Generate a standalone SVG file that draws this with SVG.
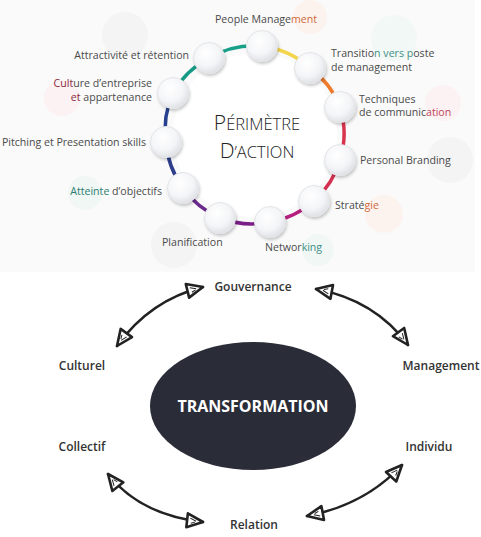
<svg xmlns="http://www.w3.org/2000/svg" width="481" height="537" viewBox="0 0 481 537">
<style>
.lbl{font-family:"Open Sans","Liberation Sans",sans-serif;font-size:10.6px;fill:#4a4a4a}
.big{font-family:"Open Sans","Liberation Sans",sans-serif;font-size:12px;font-weight:600;fill:#333}
.ttl{font-family:"Open Sans","Liberation Sans",sans-serif;font-weight:300;fill:#222}
.node{fill:url(#ng);stroke:#e4e5e8;stroke-width:1;filter:url(#sh)}
.seg{fill:none;stroke-width:3.5}
.arr{fill:none;stroke:#222;stroke-width:2.5;stroke-linecap:round;marker-start:url(#ah);marker-end:url(#ah)}
</style>
<defs>
<radialGradient id="ng" cx="0.4" cy="0.35" r="0.7">
<stop offset="0" stop-color="#ffffff"/>
<stop offset="0.6" stop-color="#f4f5f7"/>
<stop offset="1" stop-color="#dcdee3"/>
</radialGradient>
<filter id="sh" x="-40%" y="-40%" width="180%" height="180%">
<feDropShadow dx="1" dy="2" stdDeviation="1.5" flood-color="#000" flood-opacity="0.22"/>
</filter>
<marker id="ah" viewBox="-2 -9 21 18" refX="16" refY="0" markerWidth="21" markerHeight="18" markerUnits="userSpaceOnUse" orient="auto-start-reverse">
<path d="M0,-7 L16,0 L0,7 Z" fill="#fff" stroke="#222" stroke-width="2.6" stroke-linejoin="round"/>
<path d="M3,-2.5 L9,0 M4,2.5 L8,1" stroke="#222" stroke-width="1" fill="none"/>
</marker>
</defs>
<rect x="0" y="0" width="475" height="272" fill="#fafafa"/>
<g id="blobs">
<circle cx="310" cy="17" r="17" fill="#fdf3ee"/>
<circle cx="394" cy="38" r="23" fill="#f1f8f6"/>
<circle cx="443" cy="103" r="18" fill="#fcf1f3"/>
<circle cx="450" cy="160" r="23" fill="#f4f4f4"/>
<circle cx="384" cy="214" r="19" fill="#fdf3ee"/>
<circle cx="318" cy="250" r="16" fill="#f0f7f5"/>
<circle cx="174" cy="245" r="23" fill="#f4f4f4"/>
<circle cx="85" cy="193" r="17" fill="#f0f7f5"/>
<circle cx="62" cy="98" r="18" fill="#fcf1f3"/>
<circle cx="125" cy="35" r="23" fill="#f4f4f4"/>
</g>
<circle cx="255" cy="135" r="82" fill="#fff"/>
<g id="ring">
<path class="seg" stroke="#f2d54a" d="M262,46 A89,89 0 0 1 310,68"/>
<path class="seg" stroke="#ee7a2c" d="M310,68 A89,89 0 0 1 340,107"/>
<path class="seg" stroke="#d8344f" d="M340,107 A89,89 0 0 1 340,160"/>
<path class="seg" stroke="#d4304f" d="M340,160 A89,89 0 0 1 314,201"/>
<path class="seg" stroke="#b5207e" d="M314,201 A89,89 0 0 1 270,222"/>
<path class="seg" stroke="#7a1f87" d="M270,222 A89,89 0 0 1 220,218"/>
<path class="seg" stroke="#6b2a8c" d="M220,218 A89,89 0 0 1 183,188"/>
<path class="seg" stroke="#2c3e8c" d="M183,188 A89,89 0 0 1 166,142"/>
<path class="seg" stroke="#27408f" d="M166,142 A89,89 0 0 1 173,93"/>
<path class="seg" stroke="#169a86" d="M173,93 A89,89 0 0 1 209,58"/>
<path class="seg" stroke="#18a089" d="M209,58 A89,89 0 0 1 262,46"/>
</g>
<g id="title">
<text class="ttl" x="257" y="130" text-anchor="middle"><tspan font-size="21">P</tspan><tspan font-size="16.5">ÉRIMÈTRE</tspan></text>
<text class="ttl" x="257" y="158" text-anchor="middle"><tspan font-size="21">D</tspan><tspan font-size="16.5">’ACTION</tspan></text>
</g>
<g id="n-people"><circle class="node" cx="262" cy="46" r="15.5"/><text class="lbl" x="215" y="23">People Manage<tspan fill="#cf6a40">ment</tspan></text></g>
<g id="n-transition"><circle class="node" cx="310" cy="68" r="15.5"/><text class="lbl" x="331" y="57">Transitio<tspan fill="#3f8f84">n vers p</tspan>oste</text><text class="lbl" x="331" y="71">de management</text></g>
<g id="n-techniques"><circle class="node" cx="340" cy="107" r="15.5"/><text class="lbl" x="359" y="103">Techniques</text><text class="lbl" x="359" y="116">de communic<tspan fill="#c0455a">ation</tspan></text></g>
<g id="n-branding"><circle class="node" cx="340" cy="160" r="15.5"/><text class="lbl" x="360" y="164">Personal Branding</text></g>
<g id="n-strategie"><circle class="node" cx="314" cy="201" r="15.5"/><text class="lbl" x="335" y="209">Straté<tspan fill="#cf6a40">gie</tspan></text></g>
<g id="n-networking"><circle class="node" cx="270" cy="222" r="15.5"/><text class="lbl" x="265" y="251">Networ<tspan fill="#3f8f84">king</tspan></text></g>
<g id="n-planification"><circle class="node" cx="220" cy="218" r="15.5"/><text class="lbl" x="162" y="246">Planification</text></g>
<g id="n-atteinte"><circle class="node" cx="183" cy="188" r="15.5"/><text class="lbl" x="162" y="195" text-anchor="end"><tspan fill="#2e7d70">Atteinte</tspan> d’objectifs</text></g>
<g id="n-pitching"><circle class="node" cx="166" cy="142" r="15.5"/><text class="lbl" x="146" y="146" text-anchor="end">Pitching et Presentation skills</text></g>
<g id="n-culture"><circle class="node" cx="173" cy="93" r="15.5"/><text class="lbl" x="152" y="87" text-anchor="end"><tspan fill="#8b2b3b">Cult</tspan>ure d’entreprise</text><text class="lbl" x="152" y="101" text-anchor="end"><tspan fill="#8b2b3b">et</tspan> appartenance</text></g>
<g id="n-attractivite"><circle class="node" cx="209" cy="58" r="15.5"/><text class="lbl" x="189" y="59" text-anchor="end">Attractivité et rétention</text></g>
<g id="n-transformation">
<ellipse cx="253" cy="406" rx="103" ry="64" fill="#2a2d38"/>
<text x="253" y="412" text-anchor="middle" font-family="'Open Sans','Liberation Sans',sans-serif" font-size="16" font-weight="700" fill="#fff">TRANSFORMATION</text>
</g>
<g id="n-gouvernance"><text class="big" x="253" y="291" text-anchor="middle">Gouvernance</text></g>
<g id="n-culturel"><text class="big" x="82" y="370" text-anchor="middle">Culturel</text></g>
<g id="n-management"><text class="big" x="441" y="370" text-anchor="middle">Management</text></g>
<g id="n-collectif"><text class="big" x="82" y="451" text-anchor="middle">Collectif</text></g>
<g id="n-individu"><text class="big" x="429" y="451" text-anchor="middle">Individu</text></g>
<g id="n-relation"><text class="big" x="254" y="529" text-anchor="middle">Relation</text></g>
<g id="connectors">
<path class="arr" d="M117,346 Q150,300 203,287"/>
<path class="arr" d="M316,289 Q375,300 408,345"/>
<path class="arr" d="M108,474 Q140,515 203,522"/>
<path class="arr" d="M402,465 Q365,505 307,516"/>
</g>
</svg>
